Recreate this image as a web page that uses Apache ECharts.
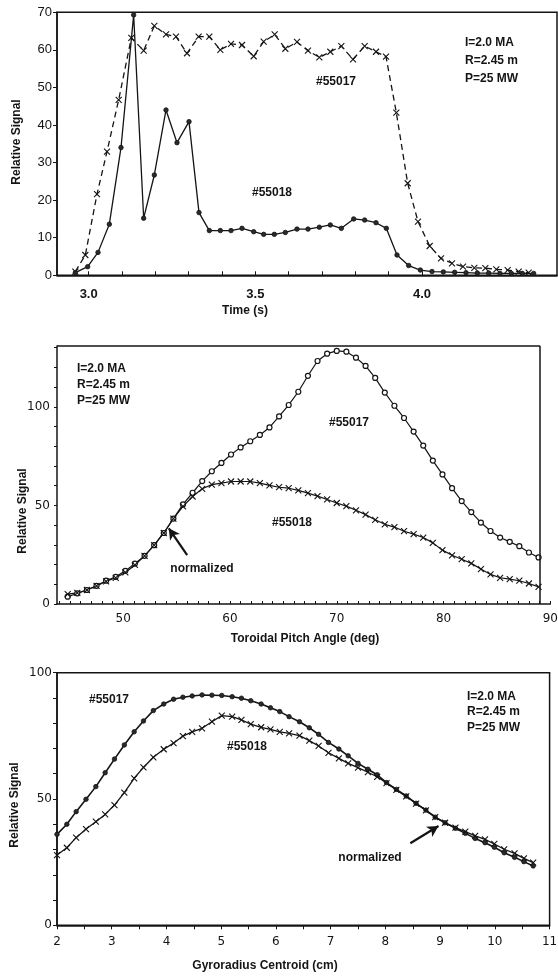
<!DOCTYPE html>
<html><head><meta charset="utf-8">
<script src="https://cdn.jsdelivr.net/npm/echarts@6/dist/echarts.min.js"></script>
<style>html,body{margin:0;padding:0;background:#fff}#c{width:558px;height:977px}</style>
</head><body><div id="c"></div>
<script>
// ---------- Panel 1: time traces ----------
const timeTicks = [3.0,3.1,3.2,3.3,3.4,3.5,3.6,3.7,3.8,3.9,4.0,4.1,4.2,4.3];
const timeLabels = [3.0,3.5,4.0];
const sigTicks1 = [0,10,20,30,40,50,60,70];
const time55017 = [2.960,2.990,3.025,3.055,3.090,3.128,3.165,3.197,3.232,3.262,3.295,3.330,3.362,3.395,3.427,3.460,3.495,3.525,3.558,3.590,3.625,3.658,3.692,3.725,3.758,3.793,3.828,3.862,3.892,3.923,3.957,3.988,4.023,4.057,4.090,4.123,4.157,4.190,4.223,4.257,4.290,4.320];
const sig55017Time = [1.0,5.4,21.6,32.9,46.7,63.2,59.8,66.4,64.1,63.5,59.1,63.5,63.5,60.0,61.6,61.3,58.3,62.2,64.1,60.3,62.1,59.8,58.0,59.5,61.0,57.5,61.0,59.5,58.2,43.3,24.5,14.3,7.8,4.5,3.2,2.3,2.0,1.9,1.6,1.4,1.0,0.7];
const time55018 = [2.960,2.997,3.028,3.062,3.097,3.135,3.165,3.197,3.232,3.265,3.301,3.331,3.362,3.395,3.427,3.460,3.495,3.525,3.557,3.590,3.625,3.658,3.692,3.725,3.758,3.795,3.828,3.862,3.893,3.925,3.960,3.995,4.030,4.064,4.098,4.132,4.166,4.200,4.234,4.268,4.301,4.335];
const sig55018Time = [0.7,2.3,6.1,13.6,34.0,69.3,15.2,26.7,44.0,35.3,40.9,16.7,11.9,11.9,11.9,12.5,11.6,10.9,10.9,11.4,12.3,12.3,12.8,13.4,12.5,15.0,14.7,14.0,12.5,5.4,2.6,1.4,1.0,0.9,0.8,0.7,0.6,0.6,0.5,0.5,0.5,0.5];

// ---------- Panel 2: pitch angle ----------
const pitchTicks = [44,45,46,47,48,49,50,51,52,53,54,55,56,57,58,59,60,61,62,63,64,65,66,67,68,69,70,71,72,73,74,75,76,77,78,79,80,81,82,83,84,85,86,87,88,89,90];
const pitchLabels = [50,60,70,80,90];
const sigTicks2 = [0,10,20,30,40,50,60,70,80,90,100,110,120,130];
const sigLabels2 = [0,50,100];
const pitch = [44.8,45.7,46.6,47.5,48.4,49.3,50.2,51.1,52.0,52.9,53.8,54.7,55.6,56.5,57.4,58.3,59.2,60.1,61.0,61.9,62.8,63.7,64.6,65.5,66.4,67.3,68.2,69.1,70.0,70.9,71.8,72.7,73.6,74.5,75.4,76.3,77.2,78.1,79.0,79.9,80.8,81.7,82.6,83.5,84.4,85.3,86.2,87.1,88.0,88.9];
const sig55017Pitch = [3.7,5.4,7.1,9.2,11.8,13.8,16.8,20.5,24.4,29.8,36.0,43.3,50.5,56.4,62.3,67.3,71.5,75.8,79.4,82.5,85.7,89.5,95.1,100.9,107.6,115.7,123.2,126.9,128.3,127.9,124.9,120.7,114.6,107.2,100.5,94.3,87.4,80.3,72.7,65.7,58.7,52.2,46.6,41.3,37.0,33.7,31.5,29.3,26.1,23.6];
const sig55018Pitch = [5.0,5.6,7.1,9.2,11.5,13.3,16.0,19.8,24.4,29.8,36.0,43.3,49.5,54.5,58.4,60.5,61.3,62.1,62.1,62.1,61.3,60.1,59.2,58.7,57.6,56.2,54.7,53.0,51.2,49.6,47.5,45.3,42.7,40.4,39.0,36.9,35.4,33.7,31.0,27.3,24.7,22.7,20.6,17.7,15.0,13.3,12.6,11.8,10.4,8.7];

// ---------- Panel 3: gyroradius ----------
const gyroTicks = [2,2.5,3,3.5,4,4.5,5,5.5,6,6.5,7,7.5,8,8.5,9,9.5,10,10.5,11];
const gyroLabels = [2,3,4,5,6,7,8,9,10,11];
const sigTicks3 = [0,10,20,30,40,50,60,70,80,90,100];
const sigLabels3 = [0,50,100];
const gyro = [2.00,2.18,2.35,2.53,2.71,2.88,3.05,3.23,3.41,3.58,3.76,3.95,4.13,4.30,4.47,4.65,4.83,5.01,5.20,5.37,5.54,5.73,5.90,6.07,6.24,6.43,6.61,6.78,6.96,7.15,7.32,7.50,7.68,7.85,8.02,8.20,8.38,8.56,8.74,8.91,9.09,9.28,9.46,9.64,9.82,9.99,10.17,10.36,10.53,10.70];
const sig55017Gyro = [36.0,40.0,45.0,49.9,54.9,60.4,65.8,71.4,76.6,80.9,85.0,87.6,89.5,90.3,90.8,91.2,91.1,91.0,90.5,89.9,88.9,87.6,86.1,84.6,82.6,80.6,78.2,75.6,72.4,69.8,67.1,64.1,61.8,59.6,56.5,53.8,51.2,48.3,45.6,42.8,40.6,38.4,36.4,34.4,32.7,30.9,28.7,26.9,25.2,23.5];
const sig55018Gyro = [27.8,30.7,34.7,38.1,41.0,43.9,47.6,52.5,58.2,62.5,66.5,69.7,72.1,74.9,76.6,78.0,80.6,83.0,82.6,81.3,79.6,78.4,77.6,76.6,76.0,75.1,73.1,71.0,68.3,66.1,64.1,62.4,60.6,58.8,56.3,53.6,51.0,48.2,45.5,42.8,40.6,38.7,37.1,35.4,34.0,32.2,30.1,28.5,26.5,24.8];

const paramLines = ['I=2.0 MA','R=2.45 m','P=25 MW'];

// ---------- styling ----------
const INK = '#141414';
const XMARK = 'path://M0 0L10 10M10 0L0 10';
const zip = (xs, ys) => xs.map((x, i) => [x, ys[i]]);
const tickFont1 = {fontFamily:'Liberation Sans', fontSize:13, color:INK};
const tickFont2 = {fontFamily:'DejaVu Sans', fontSize:12, color:INK};
const boldFont = 'bold 12px "Liberation Sans"';

function lineSeries(xi, yi, data, sym, opts) {
  return Object.assign({
    type:'line', xAxisIndex:xi, yAxisIndex:yi, data:data,
    symbol:sym.symbol, symbolSize:sym.size, showSymbol:true, showAllSymbol:true,
    itemStyle:sym.item, lineStyle:{color:INK, width:1.3},
    clip:false, silent:true, animation:false, z:3
  }, opts || {});
}
const xSym = {symbol:XMARK, size:6, item:{color:INK, borderColor:INK, borderWidth:1.1}};
const dotSym = {symbol:'circle', size:4.5, item:{color:'#2a2a2a', borderColor:INK, borderWidth:0.8}};
const ringSym = {symbol:'circle', size:5, item:{color:'#fff', borderColor:INK, borderWidth:1.2}};

const axisLineS = {show:true, lineStyle:{color:INK, width:1.5}};

function txt(x, y, s, opt) {
  return {type:'text', x:x, y:y, rotation:(opt && opt.rot) || 0, style:{text:s, font:(opt && opt.font) || boldFont, fill:INK,
    align:(opt && opt.align) || 'left', verticalAlign:'middle'}, silent:true, z:10};
}

const option = {
  backgroundColor:'#fff',
  animation:false,
  grid:[
    {left:57, top:12.3, width:500, height:263, show:true, borderColor:INK, borderWidth:1.5, outerBoundsMode:'none', containLabel:false},
    {left:57, top:346, width:493.3, height:258, show:false, outerBoundsMode:'none', containLabel:false},
    {left:57, top:672.7, width:492.6, height:252.6, show:true, borderColor:INK, borderWidth:1.5, outerBoundsMode:'none', containLabel:false}
  ],
  xAxis:[
    {type:'value', gridIndex:0, min:2.905, max:4.405, axisLine:axisLineS, splitLine:{show:false},
     axisTick:{customValues:timeTicks, inside:true, length:4, lineStyle:{color:INK}},
     axisLabel:Object.assign({customValues:timeLabels, margin:13, formatter:v=>v.toFixed(1), fontWeight:'bold'}, tickFont1)},
    {type:'value', gridIndex:1, min:43.8, max:90, axisLine:axisLineS, splitLine:{show:false},
     axisTick:{customValues:pitchTicks, inside:true, length:3, lineStyle:{color:INK}},
     axisLabel:Object.assign({customValues:pitchLabels, margin:9}, tickFont2)},
    {type:'value', gridIndex:2, min:2, max:11, axisLine:axisLineS, splitLine:{show:false},
     axisTick:{customValues:gyroTicks, inside:false, length:4, lineStyle:{color:INK}},
     axisLabel:Object.assign({customValues:gyroLabels, margin:11}, tickFont2)}
  ],
  yAxis:[
    {type:'value', gridIndex:0, min:0, max:70, axisLine:axisLineS, splitLine:{show:false},
     axisTick:{customValues:sigTicks1, inside:false, length:4, lineStyle:{color:INK}},
     axisLabel:Object.assign({customValues:sigTicks1, margin:5}, tickFont1)},
    {type:'value', gridIndex:1, min:0, max:130.8, axisLine:axisLineS, splitLine:{show:false},
     axisTick:{customValues:sigTicks2, inside:false, length:3, lineStyle:{color:INK}},
     axisLabel:Object.assign({customValues:sigLabels2, margin:7}, tickFont2)},
    {type:'value', gridIndex:2, min:0, max:100, axisLine:axisLineS, splitLine:{show:false},
     axisTick:{customValues:sigTicks3, inside:false, length:4, lineStyle:{color:INK}},
     axisLabel:Object.assign({customValues:sigLabels3, margin:5}, tickFont2)}
  ],
  series:[
    lineSeries(0,0,zip(time55017, sig55017Time), xSym, {name:'#55017', lineStyle:{color:INK, width:1.3, type:[6,4]}}),
    lineSeries(0,0,zip(time55018, sig55018Time), dotSym, {name:'#55018'}),
    lineSeries(1,1,zip(pitch, sig55017Pitch), ringSym, {name:'#55017', lineStyle:{color:INK, width:1.2},
      markLine:{silent:true, symbol:['none','none'], label:{show:false}, animation:false,
        lineStyle:{color:INK, width:1.5, type:'solid'},
        data:[[{coord:[43.8,130.8]},{coord:[89.05,130.8]}],[{coord:[89.05,0]},{coord:[89.05,130.8]}]]}}),
    lineSeries(1,1,zip(pitch, sig55018Pitch), xSym, {name:'#55018', lineStyle:{color:INK, width:1.2},
      markLine:{silent:true, symbol:['none','arrow'], symbolSize:[9,11], label:{show:false}, animation:false,
        lineStyle:{color:INK, width:2.2, type:'solid'},
        data:[[{coord:[55.99,24.8]},{coord:[54.27,38.4]}]]}}),
    lineSeries(2,2,zip(gyro, sig55017Gyro), dotSym, {name:'#55017', lineStyle:{color:INK, width:1.6}}),
    lineSeries(2,2,zip(gyro, sig55018Gyro), xSym, {name:'#55018', lineStyle:{color:INK, width:1.3},
      markLine:{silent:true, symbol:['none','arrow'], symbolSize:[9,11], label:{show:false}, animation:false,
        lineStyle:{color:INK, width:2.2, type:'solid'},
        data:[[{coord:[8.455,32.5]},{coord:[8.97,39.3]}]]}})
  ],
  graphic:[
    // panel 1
    txt(465,43,paramLines[0]), txt(465,61,paramLines[1]), txt(465,79,paramLines[2]),
    txt(336,82,'#55017',{align:'center'}), txt(272,193,'#55018',{align:'center'}),
    txt(245,311,'Time (s)',{align:'center'}),
    txt(17,142,'Relative Signal',{align:'center', rot:Math.PI/2}),
    // panel 2
    txt(77,369,paramLines[0]), txt(77,385,paramLines[1]), txt(77,401,paramLines[2]),
    txt(349,423,'#55017',{align:'center'}), txt(292,523,'#55018',{align:'center'}),
    txt(202,569,'normalized',{align:'center'}),
    txt(305,639,'Toroidal Pitch Angle (deg)',{align:'center'}),
    txt(23,511,'Relative Signal',{align:'center', rot:Math.PI/2}),
    // panel 3
    txt(467,697,paramLines[0]), txt(467,712,paramLines[1]), txt(467,728,paramLines[2]),
    txt(109,700,'#55017',{align:'center'}), txt(247,747,'#55018',{align:'center'}),
    txt(370,858,'normalized',{align:'center'}),
    txt(265,966,'Gyroradius Centroid (cm)',{align:'center'}),
    txt(15,805,'Relative Signal',{align:'center', rot:Math.PI/2})
  ]
};
const chart = echarts.init(document.getElementById('c'), null, {renderer:'canvas'});
chart.setOption(option);
</script>
</body></html>
